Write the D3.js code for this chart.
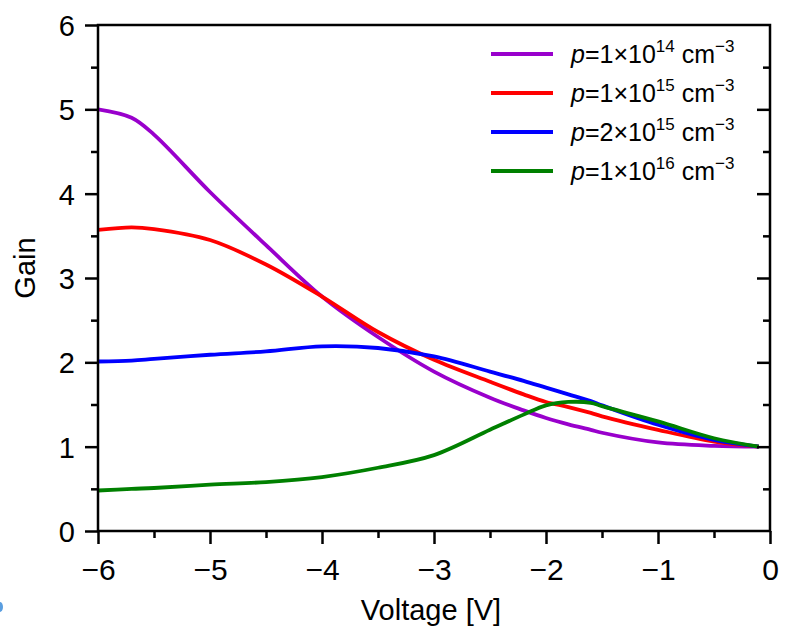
<!DOCTYPE html>
<html><head><meta charset="utf-8">
<script src="https://cdn.jsdelivr.net/npm/d3@7"></script>
<style>body{margin:0;background:#fff}svg{display:block}text{font-family:"Liberation Sans",Arial,sans-serif}</style>
</head><body>
<script>
const voltages = [-6,-5.7,-5.5,-5,-4.5,-4,-3.5,-3,-2.5,-2.2,-2,-1.8,-1.6,-1.5,-1,-0.5,-0.1];
const gain1e14 = [5.0,4.90,4.70,4.02,3.39,2.78,2.30,1.89,1.58,1.43,1.34,1.265,1.20,1.165,1.05,1.01,1.0];
const gain1e15 = [3.57,3.60,3.58,3.45,3.16,2.78,2.36,2.03,1.77,1.62,1.53,1.47,1.40,1.36,1.20,1.06,1.0];
const gain2e15 = [2.01,2.02,2.04,2.09,2.13,2.19,2.17,2.07,1.89,1.78,1.70,1.62,1.54,1.49,1.26,1.08,1.0];
const gain1e16 = [0.48,0.50,0.51,0.55,0.58,0.64,0.75,0.90,1.20,1.38,1.49,1.53,1.52,1.48,1.30,1.10,1.0];
const seriesNames = ["1\u00d710","1\u00d710","2\u00d710","1\u00d710"];
const seriesExp = ["14","15","15","16"];
const seriesColors = ["#9900CC","#FF0000","#0000FF","#008000"];
const xTicks = [-6,-5,-4,-3,-2,-1,0];
const yTicks = [0,1,2,3,4,5,6];

const W=785,H=632;
const svg=d3.select("body").append("svg").attr("width",W).attr("height",H);
const x=d3.scaleLinear().domain([-6,0]).range([98,770]);
const y=d3.scaleLinear().domain([0,6]).range([531,25]);
const series=[gain1e14,gain1e15,gain2e15,gain1e16];

// small blue artifact at left edge
svg.append("ellipse").attr("cx",0).attr("cy",607).attr("rx",3).attr("ry",5).attr("fill","#5a9ee0");

svg.append("clipPath").attr("id","c").append("rect").attr("x",98).attr("y",25).attr("width",672).attr("height",506);

const line=d3.line().x((d,i)=>x(voltages[i])).y(d=>y(d)).curve(d3.curveCatmullRom.alpha(0.5));
const g=svg.append("g").attr("clip-path","url(#c)");
series.forEach((s,i)=>{
  g.append("path").datum(s).attr("d",line).attr("fill","none").attr("stroke",seriesColors[i]).attr("stroke-width",3.8).attr("stroke-linejoin","round");
});

const sw=2.5;
const bottom=svg.append("g").attr("transform","translate(0,531)").call(d3.axisBottom(x).tickValues(xTicks).tickSize(13).tickFormat(d=>d<0?"\u2212"+Math.abs(d):String(d)));
const bminor=svg.append("g").attr("transform","translate(0,531)").call(d3.axisBottom(x).tickValues(d3.range(-5.5,0,1)).tickSize(7).tickFormat(""));
const left=svg.append("g").attr("transform","translate(98,0)").call(d3.axisLeft(y).tickValues(yTicks).tickSize(13).tickFormat(d3.format("d")));
const lminor=svg.append("g").attr("transform","translate(98,0)").call(d3.axisLeft(y).tickValues(d3.range(0.5,6,1)).tickSize(7).tickFormat(""));
const right=svg.append("g").attr("transform","translate(770,0)").call(d3.axisLeft(y).tickValues(yTicks.slice(1,6)).tickSize(13).tickFormat(""));
const rminor=svg.append("g").attr("transform","translate(770,0)").call(d3.axisLeft(y).tickValues(d3.range(0.5,6,1)).tickSize(7).tickFormat(""));
[bottom,bminor,left,lminor,right,rminor].forEach(a=>{
  a.select(".domain").remove();
  a.selectAll("line").attr("stroke","#000").attr("stroke-width",sw);
});
bottom.selectAll("text").attr("font-size",30).attr("fill","#000").attr("dy",0).attr("y",49);
left.selectAll("text").attr("font-size",29).attr("fill","#000").attr("x",-23).attr("dy","0.36em");
svg.append("rect").attr("x",98).attr("y",25).attr("width",672).attr("height",506).attr("fill","none").attr("stroke","#000").attr("stroke-width",sw);

svg.append("text").attr("x",431).attr("y",620).attr("text-anchor","middle").attr("font-size",29).text("Voltage [V]");
svg.append("text").attr("transform","translate(35,268) rotate(-90)").attr("text-anchor","middle").attr("font-size",29).text("Gain");

const ly=[54,93,132,171];
series.forEach((s,i)=>{
  svg.append("line").attr("x1",491).attr("x2",553).attr("y1",ly[i]).attr("y2",ly[i]).attr("stroke",seriesColors[i]).attr("stroke-width",4);
  const t=svg.append("text").attr("x",571).attr("y",ly[i]+9).attr("font-size",25);
  t.append("tspan").attr("font-style","italic").text("p");
  t.append("tspan").text("="+seriesNames[i]);
  t.append("tspan").attr("font-size",17).attr("dy",-11).text(seriesExp[i]);
  t.append("tspan").attr("dy",11).text(" cm");
  t.append("tspan").attr("font-size",17).attr("dy",-11).text("\u22123");
});
</script>
</body></html>
